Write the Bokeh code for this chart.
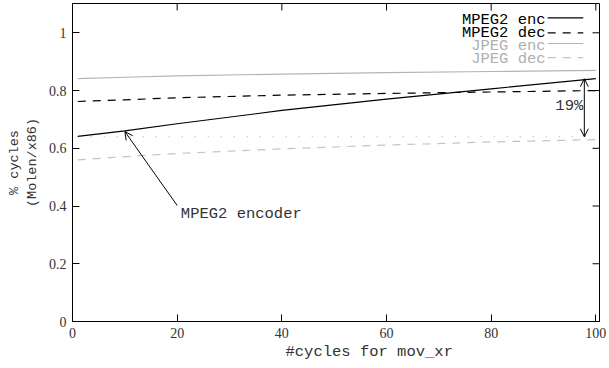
from bokeh.plotting import figure
from bokeh.embed import file_html
from bokeh.resources import INLINE
from bokeh.models import (Range1d, FixedTicker, NumeralTickFormatter,
                          Arrow, OpenHead, Label, Title)

# ---------------- data ----------------
x_cycles = [1, 10, 20, 40, 60, 80, 100]
mpeg2_enc = [0.641, 0.660, 0.685, 0.731, 0.770, 0.806, 0.841]
mpeg2_dec = [0.762, 0.768, 0.775, 0.784, 0.790, 0.795, 0.800]
jpeg_enc = [0.841, 0.846, 0.851, 0.857, 0.862, 0.866, 0.870]
jpeg_dec = [0.560, 0.571, 0.582, 0.598, 0.611, 0.622, 0.630]
dotted_ref = [0.640, 0.640, 0.640, 0.640, 0.640, 0.640, 0.640]

series_names = ["MPEG2 enc", "MPEG2 dec", "JPEG enc", "JPEG dec"]
x_ticks = [0, 20, 40, 60, 80, 100]
y_ticks = [0, 0.2, 0.4, 0.6, 0.8, 1.0]

# annotations (gnuplot-style label/arrow positions in data coords)
enc_label_pos = (20.7, 0.374)
enc_arrow_from = (20.0, 0.402)
enc_arrow_to = (10.0, 0.658)
gap_arrow_x = 97.8
gap_arrow_top = 0.841
gap_arrow_bottom = 0.640
gap_text = "19%"
gap_text_pos = (97.6, 0.745)

X_MAX, Y_MAX = 100.7, 1.1015
MONO = "Liberation Mono"
SERIF = "Liberation Serif"
TXT = "#333333"

p = figure(width=609, height=368,
           x_range=Range1d(0, X_MAX), y_range=Range1d(0, Y_MAX),
           output_backend="svg", toolbar_location=None,
           min_border_left=72, min_border_right=10,
           min_border_top=3, min_border_bottom=47)
p.grid.visible = False
p.outline_line_color = "black"
p.outline_line_width = 1
p.background_fill_color = "white"
p.border_fill_color = "white"

styles = [
    dict(color="black", line_width=1.2, line_dash="solid"),
    dict(color="black", line_width=1.2, line_dash="8 7"),
    dict(color="#b4b4b4", line_width=1.2, line_dash="solid"),
    dict(color="#c4c4c4", line_width=1.2, line_dash="8 7"),
]
text_colors = ["black", "black", "#b0b0b0", "#b0b0b0"]

p.line(x_cycles, dotted_ref, line_color="#a8a8a8", line_width=1.2, line_dash="1 12")
for ys, st in zip([mpeg2_enc, mpeg2_dec, jpeg_enc, jpeg_dec], styles):
    p.line(x_cycles, ys, line_color=st["color"], line_width=st["line_width"],
           line_dash=st["line_dash"])

# axes
for ax in (p.xaxis[0], p.yaxis[0]):
    ax.major_tick_in = 7
    ax.major_tick_out = 0
    ax.minor_tick_line_color = None
    ax.axis_line_color = "black"
    ax.major_tick_line_color = "black"
    ax.major_label_text_font = SERIF
    ax.major_label_text_font_size = "14px"
    ax.major_label_text_color = TXT
    ax.axis_label_text_font = MONO
    ax.axis_label_text_font_style = "normal"
    ax.axis_label_text_color = TXT

p.xaxis.ticker = FixedTicker(ticks=x_ticks)
p.yaxis.ticker = FixedTicker(ticks=y_ticks)
p.xaxis.formatter = NumeralTickFormatter(format="0")
p.yaxis.formatter = NumeralTickFormatter(format="0.[0]")
p.xaxis.major_label_standoff = 6
p.yaxis.major_label_standoff = 6
p.yaxis.axis_label = "% cycles\n(Molen/x86)"
p.yaxis.axis_label_text_font_size = "13.5px"
p.yaxis.axis_label_standoff = 6

# x axis title, shifted right as in the reference
p.add_layout(Title(text="#cycles for mov_xr", align="left", offset=213,
                   text_font=MONO, text_font_size="15.5px", text_font_style="normal",
                   text_color=TXT, standoff=0), "below")

# mirrored ticks on top and right border (7 px long, converted to data units)
tick_dy = 7 * Y_MAX / 318.0
tick_dx = 7 * X_MAX / 527.0
p.segment(x0=x_ticks, y0=[Y_MAX] * len(x_ticks), x1=x_ticks,
          y1=[Y_MAX - tick_dy] * len(x_ticks), line_color="black", line_width=1)
p.segment(x0=[X_MAX] * len(y_ticks), y0=y_ticks, x1=[X_MAX - tick_dx] * len(y_ticks),
          y1=y_ticks, line_color="black", line_width=1)

# legend drawn gnuplot-style (text, then sample on the right)
leg_text_x = 90.4
leg_line_x0, leg_line_x1 = 90.8, 97.6
leg_text_rows = [1.043, 1.000, 0.955, 0.910]
leg_line_rows = [1.052, 1.000, 0.963, 0.914]
for name, ty, ly, st, tc in zip(series_names, leg_text_rows, leg_line_rows, styles, text_colors):
    p.add_layout(Label(x=leg_text_x, y=ty, text=name, text_align="right",
                       text_baseline="middle", text_font=MONO,
                       text_font_size="15.5px", text_color=tc))
    p.line([leg_line_x0, leg_line_x1], [ly, ly], line_color=st["color"],
           line_width=st["line_width"], line_dash=st["line_dash"])

# annotations
p.add_layout(Label(x=enc_label_pos[0], y=enc_label_pos[1], text="MPEG2 encoder",
                   text_baseline="middle", text_font=MONO,
                   text_font_size="15.5px", text_color=TXT))
p.add_layout(Arrow(end=OpenHead(size=8, line_width=1, line_color="black"),
                   x_start=enc_arrow_from[0], y_start=enc_arrow_from[1],
                   x_end=enc_arrow_to[0], y_end=enc_arrow_to[1],
                   line_width=1, line_color="black"))
p.add_layout(Arrow(start=OpenHead(size=8, line_width=1, line_color="black"),
                   end=OpenHead(size=8, line_width=1, line_color="black"),
                   x_start=gap_arrow_x, y_start=gap_arrow_top,
                   x_end=gap_arrow_x, y_end=gap_arrow_bottom,
                   line_width=1, line_color="black"))
p.add_layout(Label(x=gap_text_pos[0], y=gap_text_pos[1], text=gap_text,
                   text_align="right", text_baseline="middle", text_font=MONO,
                   text_font_size="15.5px", text_color=TXT))

open("out.html", "w").write(file_html(p, INLINE))
